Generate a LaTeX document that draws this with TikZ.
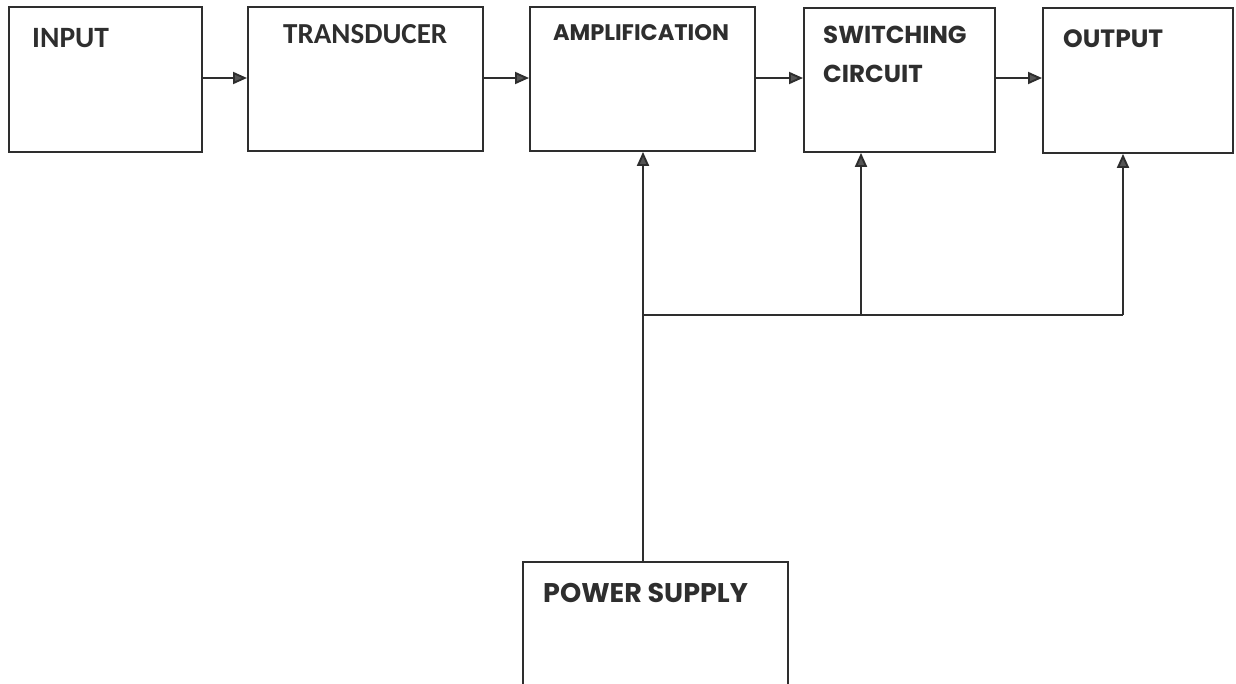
\documentclass[tikz,border=0pt]{standalone}
\usepackage{fontspec}
\newfontfamily\calfont{Carlito}
\newfontfamily\gothfont{Poppins}
\usetikzlibrary{arrows.meta}
\definecolor{ink}{HTML}{2E2E2E}
\definecolor{tip}{HTML}{555555}
\tikzset{
  blk/.style={draw=ink, line width=1.9pt, rectangle, anchor=north west, inner sep=0pt},
  lbl/.style={anchor=base west, inner sep=0pt, text=ink},
  wire/.style={draw=ink, line width=1.9pt},
  arr/.style={draw=ink, line width=1.9pt, -{Triangle[length=14pt,width=12pt,fill=tip]}},
}
\begin{document}
\begin{tikzpicture}[x=1pt,y=-1pt]
\useasboundingbox[fill=white] (0,0) rectangle (1236,683);
% blocks
\node[blk, minimum width=193pt, minimum height=145pt] (in)  at (8,6) {};
\node[blk, minimum width=235pt, minimum height=144pt] (tr)  at (247,6) {};
\node[blk, minimum width=225pt, minimum height=144pt] (amp) at (529,6) {};
\node[blk, minimum width=191pt, minimum height=144pt] (sw)  at (803,7) {};
\node[blk, minimum width=190pt, minimum height=145pt] (out) at (1042,7) {};
\node[blk, minimum width=265pt, minimum height=128pt] (ps)  at (522,561) {};
% labels
\node[lbl, font=\calfont\bfseries\fontsize{29.5}{34}\selectfont] (inT) at (32,47) {INPUT};
\node[lbl, font=\calfont\bfseries\fontsize{29}{34}\selectfont] (trT) at (283,43) {TRANSDUCER};
\node[anchor=base, inner sep=0pt, text=ink, font=\gothfont\bfseries\fontsize{22.5}{26}\selectfont] (ampT) at (641,40) {AMPLIFICATION};
\node[lbl, font=\gothfont\bfseries\fontsize{24.5}{28}\selectfont] (swT1) at (823,43) {SWITCHING};
\node[lbl, font=\gothfont\bfseries\fontsize{24.5}{28}\selectfont] (swT2) at (823,82) {CIRCUIT};
\node[lbl, font=\gothfont\bfseries\fontsize{25}{30}\selectfont] (outT) at (1063,47) {OUTPUT};
\node[lbl, font=\gothfont\bfseries\fontsize{27}{32}\selectfont] (psT) at (543,602) {POWER SUPPLY};
% forward chain
\draw[arr] (in.east |- 0,78) -- (tr.west |- 0,78);
\draw[arr] (tr.east |- 0,78) -- (amp.west |- 0,78);
\draw[arr] (amp.east |- 0,78) -- (sw.west |- 0,78);
\draw[arr] (sw.east |- 0,78) -- (out.west |- 0,78);
% power distribution
\coordinate (j1) at (643,315);
\coordinate (j2) at (861,315);
\coordinate (j3) at (1123,315);
\draw[wire] (ps.north -| j1) -- (j1);
\draw[arr] (j1) -- (amp.south -| j1);
\draw[wire] (j1) -- (j3);
\draw[arr] (j2) -- (sw.south -| j2);
\draw[arr] (j3) -- (out.south -| j3);
\end{tikzpicture}
\end{document}
